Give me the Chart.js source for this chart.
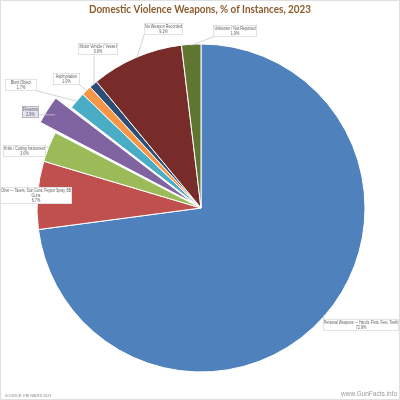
<!DOCTYPE html>
<html><head><meta charset="utf-8">
<script src="https://cdn.jsdelivr.net/npm/chart.js@4"></script>
<style>html,body{margin:0;padding:0;background:#fff}#wrap{width:400px;height:400px;position:relative}</style>
</head><body><div id="wrap"><canvas id="c" width="400" height="400"></canvas></div>
<script>
const categories = ["Personal Weapons — Hands, Fists, Feet, Teeth", "Other — Tasers, Stun Guns, Pepper Spray, BB Guns", "Knife / Cutting Instrument", "Firearms", "Blunt Object", "Asphyxiation", "Motor Vehicle / Vessel", "No Weapon Recorded", "Unknown / Not Reported"];
const values = [72.9, 6.7, 3.0, 2.9, 1.7, 1.0, 0.8, 9.1, 1.9];
const colors = ["#4F81BD", "#C0504D", "#9BBB59", "#8064A2", "#4BACC6", "#F79646", "#2C4D75", "#772C2A", "#5F7530"];
const titleText = "Domestic Violence Weapons, % of Instances, 2023";
const sourceText = "SOURCE: FBI NIBRS 2023";
const siteText = "www.GunFacts.info";

// label box layout: left, top, width, words per first line (0 = no wrap)
const boxes = [
  {x: 323, y: 319, w: 76, brk: 0},
  {x: 0, y: 187, w: 72, brk: 8},
  {x: 3, y: 145, w: 43, brk: 0},
  {x: 22, y: 106, w: 17, brk: 0, sel: true},
  {x: 5, y: 79, w: 32, brk: 0},
  {x: 53, y: 73, w: 27, brk: 0},
  {x: 78, y: 43, w: 40, brk: 0},
  {x: 144, y: 23, w: 39, brk: 0},
  {x: 213, y: 25, w: 44, brk: 0}
];
const SQUEEZE = 0.82;

const deco = {
  id: 'deco',
  afterDatasetsDraw(chart) {
    const ctx = chart.ctx;
    const meta = chart.getDatasetMeta(0);
    ctx.save();
    ctx.font = '4.6px "Liberation Sans", Arial, sans-serif';
    const lh = 5;
    meta.data.forEach((arc, i) => {
      const b = boxes[i];
      const words = categories[i].split(' ');
      const lines = b.brk ? [words.slice(0, b.brk).join(' '), words.slice(b.brk).join(' ')] : [categories[i]];
      lines.push(values[i].toFixed(1) + '%');
      const h = lines.length * lh + 2;
      const p = arc.getProps(['x','y','startAngle','endAngle','outerRadius'], true);
      const mid = (p.startAngle + p.endAngle) / 2;
      const off = (arc.options.offset || 0) / 4;
      const cx = p.x + Math.cos(mid) * off, cy = p.y + Math.sin(mid) * off;
      const ax = cx + Math.cos(mid) * (p.outerRadius - 1);
      const ay = cy + Math.sin(mid) * (p.outerRadius - 1);
      const bx = Math.max(b.x, Math.min(b.x + b.w, ax));
      const by = Math.max(b.y, Math.min(b.y + h, ay));
      ctx.strokeStyle = '#C8C8C8';
      ctx.lineWidth = 0.8;
      ctx.beginPath(); ctx.moveTo(bx, by); ctx.lineTo(ax, ay); ctx.stroke();
      ctx.fillStyle = b.sel ? '#E4E2EE' : '#FFFFFF';
      ctx.strokeStyle = b.sel ? '#9A98A8' : '#D0D0D0';
      ctx.lineWidth = 0.6;
      ctx.fillRect(b.x, b.y, b.w, h);
      ctx.strokeRect(b.x + 0.3, b.y + 0.3, b.w - 0.6, h - 0.6);
      ctx.fillStyle = '#606060';
      ctx.textAlign = 'center';
      ctx.textBaseline = 'middle';
      lines.forEach((ln, k) => {
        const w = Math.min(ctx.measureText(ln).width * SQUEEZE, b.w - 2);
        ctx.fillText(ln, b.x + b.w / 2, b.y + 1 + lh * (k + 0.5), Math.max(w, 1));
      });
    });
    ctx.font = 'bold 11px Lato, "Liberation Sans", sans-serif';
    ctx.fillStyle = '#8C5B2C';
    ctx.textAlign = 'center';
    ctx.textBaseline = 'middle';
    ctx.fillText(titleText, 200, 9.5, 222);
    ctx.font = '3.8px "Liberation Sans", sans-serif';
    ctx.fillStyle = '#8A8A8A';
    ctx.textAlign = 'left';
    ctx.fillText(sourceText, 5, 395.5);
    ctx.font = '6.5px "Liberation Sans", sans-serif';
    ctx.fillStyle = '#9A9A9A';
    ctx.textAlign = 'right';
    ctx.fillText(siteText, 397, 394);
    ctx.strokeStyle = '#E0E0E0';
    ctx.lineWidth = 1;
    ctx.strokeRect(0.5, 0.5, 399, 399);
    ctx.restore();
  }
};

new Chart(document.getElementById('c'), {
  type: 'pie',
  data: {
    labels: categories,
    datasets: [{
      data: values,
      backgroundColor: colors,
      borderColor: '#FFFFFF',
      borderWidth: 1,
      offset: [0, 0, 0, 40, 0, 0, 0, 0, 0]
    }]
  },
  options: {
    responsive: false,
    animation: false,
    radius: 164,
    layout: {padding: {left: 30, right: 28, top: 40, bottom: 24}},
    plugins: {legend: {display: false}, tooltip: {enabled: false}, title: {display: false}}
  },
  plugins: [deco]
});
</script></body></html>
